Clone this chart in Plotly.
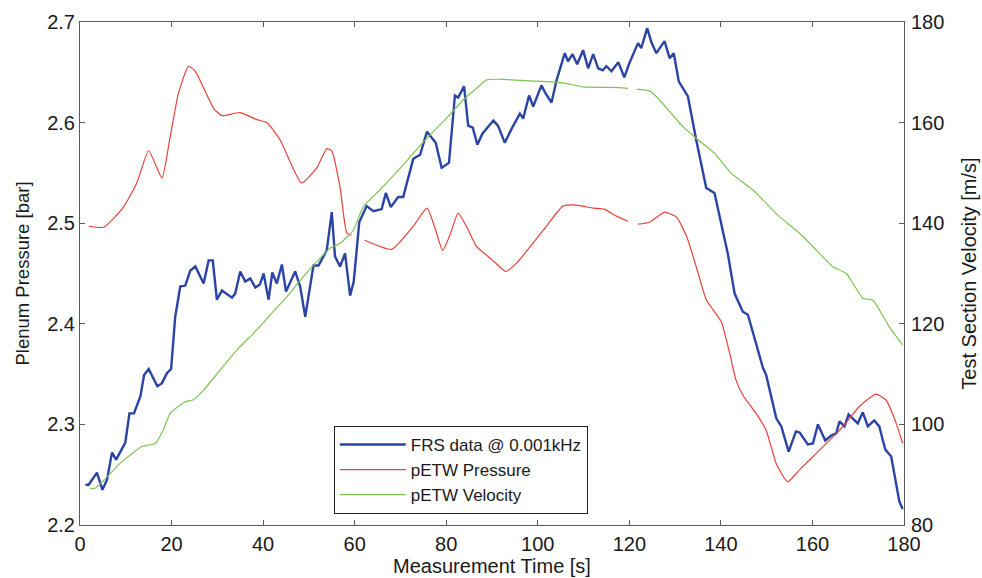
import plotly.graph_objects as go

# FRS data (blue, left axis, bar)
frs_t = [1.2, 1.9, 3.7, 4.9, 5.9, 7.0, 7.9, 9.9, 10.8, 11.8, 13.2, 14.0, 15.0, 16.9, 17.9, 19.0, 19.9,
         20.8, 21.9, 23.0, 24.1, 25.2, 27.0, 28.1, 29.0, 29.9, 31.0, 33.2, 33.9, 35.0, 36.1, 37.2, 38.3,
         39.3, 40.1, 41.2, 42.0, 43.0, 44.1, 45.0, 47.0, 48.1, 49.2, 51.0, 52.1, 53.9, 55.0, 55.7, 56.8,
         57.9, 59.0, 59.8, 61.0, 62.6, 64.1, 65.9, 66.8, 67.9, 69.5, 70.6, 72.8, 74.3, 75.8, 77.7, 79.0,
         80.6, 81.9, 82.6, 83.9, 84.8, 85.8, 86.8, 87.9, 90.3, 91.3, 92.8, 94.3, 96.1, 96.8, 98.1, 99.0,
         100.8, 101.7, 103.0, 104.1, 105.9, 106.6, 107.6, 108.6, 109.9, 111.0, 112.1, 113.2, 114.2, 115.0,
         116.1, 117.6, 118.9, 120.0, 121.9, 122.6, 123.9, 124.8, 125.9, 127.7, 128.8, 129.7, 130.8, 132.8,
         134.6, 136.8, 138.6, 141.5, 143.0, 144.8, 145.9, 149.2, 149.9, 152.1, 153.2, 154.8, 156.4, 157.2,
         159.0, 160.1, 161.2, 162.8, 164.1, 165.2, 165.9, 167.0, 167.9, 169.9, 171.0, 172.1, 173.5, 174.6,
         175.9, 177.2, 179.0, 179.7]
frs_p = [2.240, 2.240, 2.252, 2.235, 2.245, 2.272, 2.265, 2.282, 2.311, 2.311, 2.328, 2.349, 2.355, 2.338,
         2.341, 2.351, 2.355, 2.407, 2.437, 2.438, 2.453, 2.457, 2.440, 2.463, 2.463, 2.424, 2.433, 2.426,
         2.430, 2.452, 2.442, 2.445, 2.436, 2.439, 2.450, 2.424, 2.451, 2.440, 2.459, 2.432, 2.452, 2.437,
         2.407, 2.458, 2.458, 2.473, 2.511, 2.467, 2.457, 2.470, 2.428, 2.442, 2.501, 2.517, 2.512, 2.514,
         2.530, 2.516, 2.526, 2.526, 2.564, 2.568, 2.591, 2.580, 2.555, 2.560, 2.627, 2.625, 2.636, 2.597,
         2.595, 2.578, 2.589, 2.602, 2.597, 2.580, 2.594, 2.609, 2.604, 2.627, 2.616, 2.637, 2.629, 2.620,
         2.642, 2.669, 2.661, 2.668, 2.658, 2.672, 2.654, 2.668, 2.654, 2.652, 2.656, 2.651, 2.660, 2.645,
         2.659, 2.679, 2.674, 2.694, 2.680, 2.669, 2.681, 2.664, 2.669, 2.641, 2.626, 2.583, 2.535, 2.530,
         2.470, 2.430, 2.412, 2.409, 2.356, 2.349, 2.306, 2.298, 2.273, 2.293, 2.292, 2.280, 2.281, 2.300,
         2.284, 2.289, 2.291, 2.303, 2.298, 2.310, 2.301, 2.312, 2.298, 2.304, 2.298, 2.275, 2.268, 2.223,
         2.216]

# pETW pressure (red, left axis, bar); None marks the gaps in the recording
prs_t = [1.9, 5.2, 9.5, 12.4, 15.0, 17.9, 19.7, 21.5, 23.7, 25.2, 29.2, 31.0, 35.0, 38.6, 40.8, 43.7,
         48.4, 51.7, 53.9, 55.0, 56.8, 58.3, 59.3, 60.7, 62.2, 68.1, 72.8, 75.8, 77.7, 79.2, 80.8, 82.6,
         84.4, 86.6, 90.2, 93.0, 95.3, 101.2, 105.5, 108.4, 112.1, 114.5, 117.2, 119.7, 120.8, 121.9, 124.4,
         127.7, 130.3, 132.5, 134.6, 136.8, 138.6, 140.1, 141.9, 143.3, 144.8, 147.7, 149.9, 152.1, 154.6,
         157.2, 160.8, 165.9, 170.3, 173.9, 176.1, 178.3, 179.7]
prs_p = [2.497, 2.496, 2.516, 2.540, 2.572, 2.545, 2.586, 2.629, 2.656, 2.651, 2.614, 2.607, 2.610, 2.603,
         2.600, 2.583, 2.540, 2.555, 2.574, 2.572, 2.536, 2.490, 2.488, None, 2.483, 2.474, 2.497, 2.515,
         2.493, 2.473, 2.488, 2.510, 2.497, 2.477, 2.463, 2.452, 2.460, 2.493, 2.517, 2.518, 2.515, 2.514,
         2.507, 2.502, None, 2.499, 2.501, 2.511, 2.506, 2.487, 2.457, 2.424, 2.412, 2.402, 2.371, 2.344,
         2.329, 2.311, 2.294, 2.261, 2.243, 2.255, 2.271, 2.294, 2.318, 2.330, 2.324, 2.301, 2.281]

# pETW velocity (green, right axis, m/s)
vel_t = [2.2, 3.3, 5.2, 8.8, 13.5, 15.0, 16.4, 18.2, 19.7, 23.0, 24.8, 27.0, 30.6, 34.3, 37.9, 41.5,
         45.2, 48.8, 52.4, 54.6, 56.8, 59.7, 61.9, 65.5, 69.2, 72.8, 76.4, 80.1, 83.7, 86.6, 88.8, 92.4,
         98.3, 105.5, 109.9, 116.4, 119.7, 120.6, 121.6, 124.4, 126.3, 128.8, 131.7, 134.6, 138.6, 142.3,
         147.0, 152.8, 157.2, 160.8, 164.4, 167.4, 171.0, 173.2, 176.8, 179.7]
vel_v = [87.3, 87.3, 88.9, 92.3, 95.6, 95.9, 96.2, 98.9, 102.2, 104.5, 104.9, 106.8, 110.8, 114.8, 118.1,
         121.7, 125.4, 129.4, 133.0, 135.0, 136.0, 138.6, 143.3, 146.6, 150.2, 153.9, 157.5, 160.9, 164.5,
         166.8, 168.5, 168.6, 168.3, 167.9, 167.1, 167.0, 166.8, None, 166.6, 166.3, 164.8, 162.2, 159.2,
         156.9, 153.9, 149.9, 146.6, 141.3, 138.0, 134.7, 131.4, 130.0, 125.1, 124.7, 119.4, 115.8]

x_ticks = [0, 20, 40, 60, 80, 100, 120, 140, 160, 180]
p_ticks = [2.2, 2.3, 2.4, 2.5, 2.6, 2.7]
p_labels = ["2.2", "2.3", "2.4", "2.5", "2.6", "2.7"]
v_ticks = [80, 100, 120, 140, 160, 180]

FONT = "Liberation Sans, Arial, sans-serif"
AX = "#5a5a5a"
TXT = "#1a1a1a"

fig = go.Figure()
fig.add_trace(go.Scatter(x=frs_t, y=frs_p, mode="lines", name="FRS data @ 0.001kHz",
                         line=dict(color="#2a44a6", width=2.4)))
fig.add_trace(go.Scatter(x=prs_t, y=prs_p, mode="lines", name="pETW Pressure",
                         line=dict(color="#e8403a", width=1.2, shape="spline", smoothing=0.5),
                         connectgaps=False))
fig.add_trace(go.Scatter(x=vel_t, y=vel_v, mode="lines", name="pETW Velocity", yaxis="y2",
                         line=dict(color="#7cc552", width=1.2, shape="spline", smoothing=0.5),
                         connectgaps=False))

fig.update_layout(
    width=982, height=578,
    margin=dict(l=80, r=78, t=22, b=53),
    paper_bgcolor="white", plot_bgcolor="white",
    font=dict(family=FONT, size=19, color=TXT),
    showlegend=True,
    legend=dict(x=0.308, y=0.022, xanchor="left", yanchor="bottom",
                bgcolor="white", bordercolor="#222222", borderwidth=1,
                font=dict(size=17), tracegroupgap=0, itemwidth=66),
    xaxis=dict(range=[0, 180], tickvals=x_ticks, ticks="inside", ticklen=5, tickcolor=AX,
               showline=True, linecolor=AX, linewidth=1, mirror="ticks", showgrid=False,
               zeroline=False, automargin=False, ticklabelstandoff=1,
               tickfont=dict(size=20),
               title=dict(text="Measurement Time [s]", standoff=2, font=dict(size=20))),
    yaxis=dict(range=[2.2, 2.7], tickvals=p_ticks, ticktext=p_labels, ticks="inside", ticklen=5,
               tickcolor=AX, showline=True, linecolor=AX, linewidth=1, mirror=True,
               showgrid=False, zeroline=False, automargin=False, ticklabelstandoff=0,
               tickfont=dict(size=20),
               title=dict(text="Plenum Pressure [bar]", standoff=12, font=dict(size=18.5))),
    yaxis2=dict(range=[80, 180], tickvals=v_ticks, ticks="inside", ticklen=5, tickcolor=AX,
                overlaying="y", side="right", showline=False, showgrid=False, zeroline=False,
                automargin=False, ticklabelstandoff=6, tickfont=dict(size=20),
                title=dict(text="Test Section Velocity [m/s]", standoff=18, font=dict(size=20))),
)

fig.write_html("out.html", config={"displayModeBar": False},
               post_script="document.body.style.margin='0px';")
